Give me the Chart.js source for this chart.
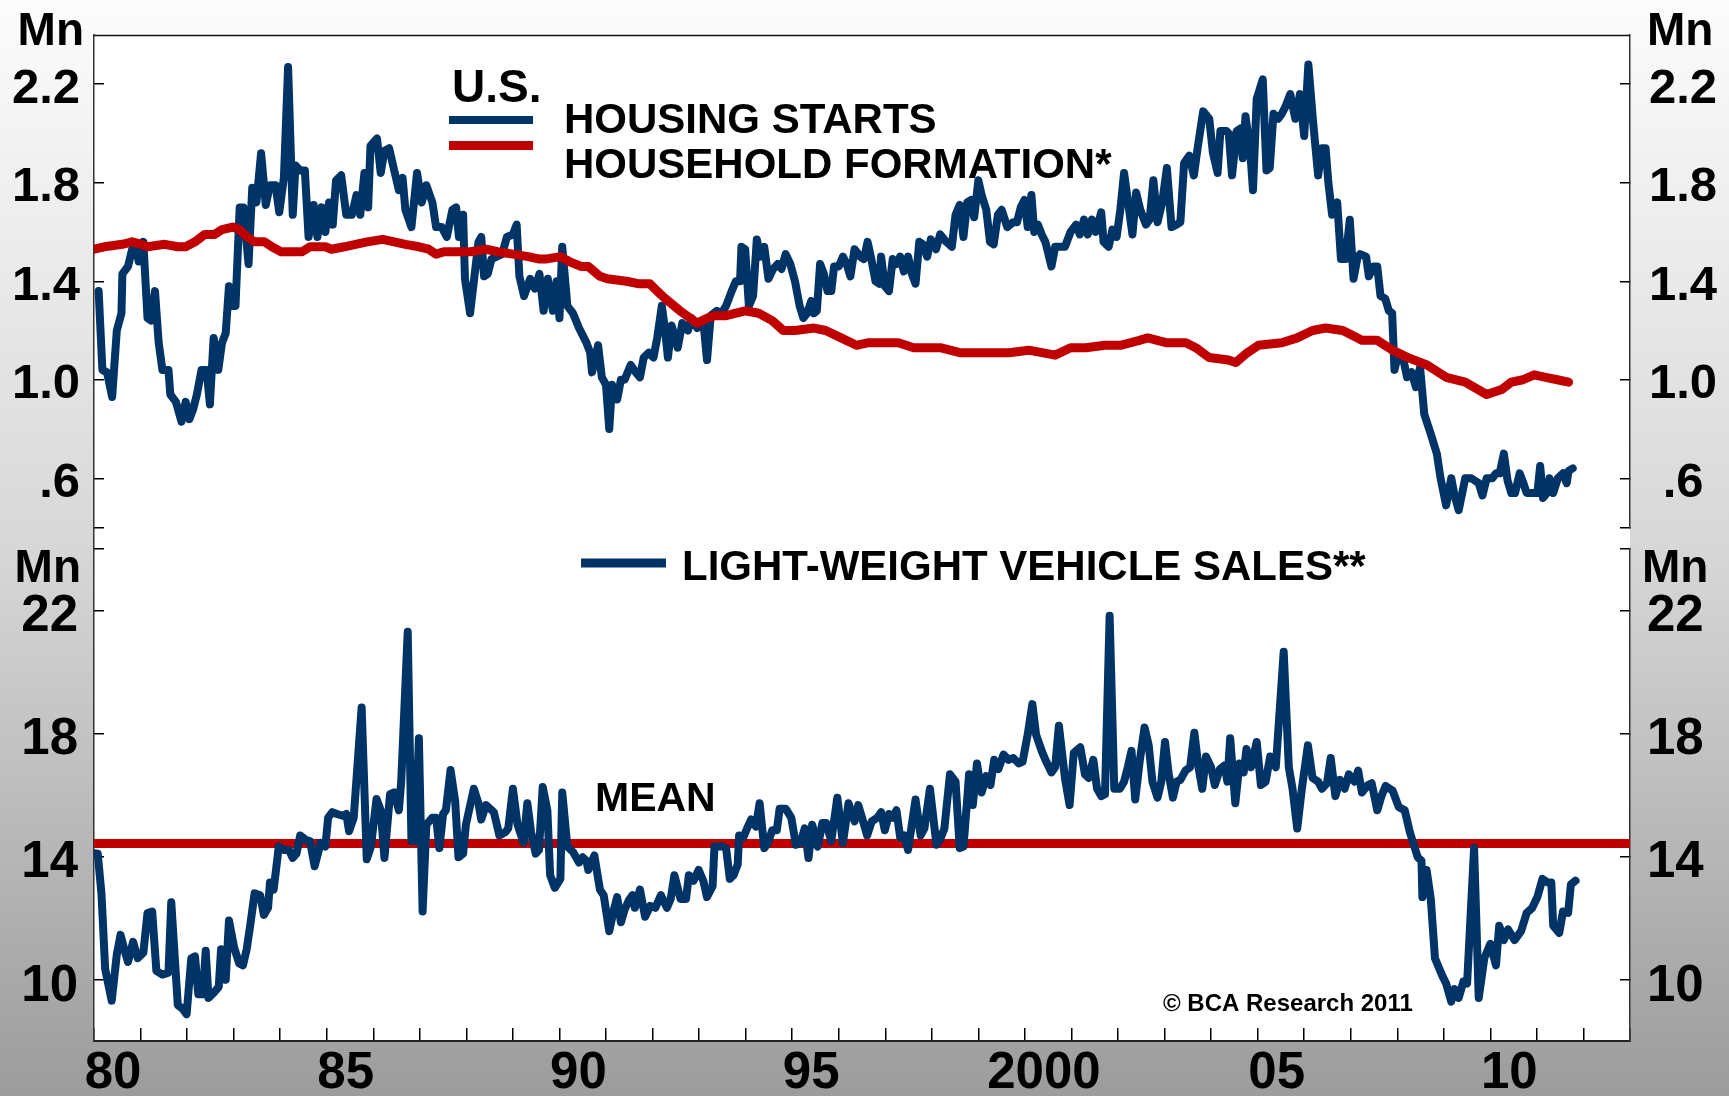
<!DOCTYPE html>
<html><head><meta charset="utf-8">
<script src="https://cdn.jsdelivr.net/npm/chart.js@4.4.1/dist/chart.umd.min.js"></script>
<style>
html,body{margin:0;padding:0;}
body{width:1729px;height:1096px;overflow:hidden;background:linear-gradient(to bottom,#fcfcfc 0px,#d7d7d7 550px,#9c9c9c 1096px);}
#c{position:absolute;left:0;top:0;}
</style></head><body>
<canvas id="c" width="1729" height="1096"></canvas>
<script>
// ---------- DATA ----------
const hsYears = [1980.10,1980.18,1980.28,1980.39,1980.49,1980.59,1980.61,1980.73,1980.82,1980.90,1980.96,1981.06,1981.15,1981.23,1981.31,1981.39,1981.47,1981.60,1981.64,1981.76,1981.88,1981.97,1982.05,1982.13,1982.21,1982.31,1982.42,1982.49,1982.57,1982.67,1982.75,1982.83,1982.90,1982.97,1983.04,1983.13,1983.21,1983.32,1983.40,1983.49,1983.59,1983.69,1983.78,1983.90,1983.98,1984.08,1984.17,1984.27,1984.33,1984.43,1984.53,1984.61,1984.72,1984.80,1984.89,1984.97,1985.05,1985.13,1985.20,1985.31,1985.42,1985.54,1985.64,1985.72,1985.81,1985.89,1985.94,1986.08,1986.16,1986.24,1986.34,1986.45,1986.55,1986.63,1986.69,1986.82,1986.94,1987.04,1987.14,1987.27,1987.35,1987.47,1987.58,1987.70,1987.78,1987.84,1987.93,1987.97,1988.08,1988.18,1988.26,1988.32,1988.38,1988.46,1988.54,1988.65,1988.77,1988.87,1989.00,1989.08,1989.14,1989.24,1989.37,1989.47,1989.57,1989.66,1989.75,1989.86,1989.94,1990.00,1990.06,1990.17,1990.29,1990.42,1990.50,1990.58,1990.66,1990.70,1990.83,1990.91,1991.00,1991.07,1991.13,1991.24,1991.32,1991.40,1991.53,1991.64,1991.73,1991.81,1991.92,1992.02,1992.10,1992.20,1992.27,1992.33,1992.41,1992.54,1992.64,1992.76,1992.84,1992.96,1993.09,1993.17,1993.25,1993.38,1993.48,1993.58,1993.70,1993.79,1993.88,1993.91,1993.99,1994.07,1994.16,1994.24,1994.32,1994.40,1994.49,1994.59,1994.69,1994.77,1994.86,1994.96,1995.06,1995.16,1995.24,1995.32,1995.41,1995.47,1995.53,1995.60,1995.68,1995.76,1995.84,1995.90,1996.00,1996.09,1996.17,1996.25,1996.34,1996.46,1996.54,1996.62,1996.70,1996.79,1996.87,1996.91,1996.99,1997.08,1997.16,1997.24,1997.32,1997.40,1997.49,1997.57,1997.65,1997.73,1997.81,1997.90,1997.98,1998.09,1998.18,1998.31,1998.43,1998.51,1998.60,1998.68,1998.76,1998.84,1998.91,1999.00,1999.07,1999.17,1999.25,1999.33,1999.42,1999.50,1999.62,1999.75,1999.83,1999.91,1999.99,2000.06,2000.14,2000.20,2000.28,2000.36,2000.44,2000.57,2000.65,2000.77,2000.86,2000.98,2001.10,2001.18,2001.27,2001.35,2001.44,2001.52,2001.64,2001.69,2001.80,2001.88,2001.97,2002.05,2002.13,2002.21,2002.31,2002.39,2002.48,2002.60,2002.68,2002.76,2002.85,2002.95,2003.05,2003.15,2003.26,2003.34,2003.42,2003.53,2003.63,2003.71,2003.83,2003.96,2004.04,2004.14,2004.20,2004.33,2004.38,2004.45,2004.55,2004.63,2004.68,2004.74,2004.84,2004.90,2004.98,2005.11,2005.19,2005.26,2005.34,2005.44,2005.52,2005.60,2005.70,2005.81,2005.91,2006.00,2006.09,2006.19,2006.30,2006.38,2006.46,2006.52,2006.60,2006.71,2006.79,2006.89,2006.98,2007.06,2007.15,2007.20,2007.33,2007.39,2007.49,2007.57,2007.64,2007.74,2007.82,2007.89,2007.94,2008.03,2008.11,2008.21,2008.31,2008.40,2008.49,2008.58,2008.72,2008.85,2008.93,2009.05,2009.16,2009.23,2009.32,2009.46,2009.59,2009.67,2009.75,2009.83,2009.92,2010.04,2010.12,2010.20,2010.29,2010.37,2010.45,2010.53,2010.63,2010.71,2010.78,2010.90,2011.01,2011.07,2011.13,2011.22,2011.27,2011.35,2011.45,2011.56,2011.64,2011.68,2011.77];
const hsValues = [1.36,1.04,1.03,0.93,1.20,1.27,1.43,1.46,1.53,1.54,1.48,1.56,1.25,1.24,1.36,1.15,1.04,1.04,0.94,0.91,0.83,0.91,0.84,0.88,0.94,1.04,1.04,0.90,1.17,1.04,1.15,1.19,1.38,1.30,1.30,1.70,1.70,1.47,1.78,1.72,1.92,1.71,1.79,1.79,1.68,1.82,2.27,1.67,1.87,1.85,1.85,1.58,1.71,1.58,1.70,1.60,1.72,1.63,1.81,1.83,1.67,1.67,1.75,1.67,1.84,1.70,1.95,1.98,1.84,1.93,1.94,1.85,1.77,1.82,1.69,1.62,1.84,1.72,1.79,1.72,1.62,1.62,1.58,1.69,1.70,1.58,1.67,1.41,1.27,1.43,1.56,1.58,1.42,1.43,1.49,1.50,1.51,1.58,1.59,1.63,1.42,1.34,1.41,1.37,1.43,1.28,1.41,1.28,1.40,1.25,1.54,1.30,1.27,1.21,1.18,1.15,1.11,1.03,1.14,1.01,0.98,0.80,0.98,0.92,1.00,1.00,1.06,1.03,1.01,1.09,1.11,1.09,1.17,1.30,1.20,1.09,1.22,1.13,1.23,1.20,1.25,1.21,1.24,1.08,1.26,1.28,1.27,1.30,1.36,1.40,1.40,1.54,1.53,1.30,1.34,1.57,1.50,1.54,1.41,1.45,1.47,1.45,1.51,1.47,1.40,1.30,1.25,1.27,1.32,1.27,1.28,1.47,1.43,1.36,1.36,1.46,1.46,1.50,1.47,1.42,1.53,1.50,1.49,1.56,1.49,1.40,1.39,1.50,1.38,1.36,1.49,1.47,1.50,1.44,1.50,1.43,1.39,1.56,1.55,1.50,1.57,1.53,1.59,1.56,1.54,1.67,1.71,1.58,1.72,1.73,1.66,1.81,1.75,1.69,1.56,1.55,1.67,1.69,1.62,1.64,1.64,1.70,1.73,1.62,1.75,1.60,1.63,1.59,1.56,1.46,1.54,1.54,1.54,1.60,1.63,1.59,1.65,1.59,1.65,1.60,1.68,1.56,1.54,1.61,1.58,1.69,1.84,1.73,1.59,1.76,1.69,1.63,1.65,1.81,1.64,1.72,1.86,1.62,1.63,1.64,1.88,1.91,1.83,1.94,2.09,2.06,1.92,1.84,2.01,2.01,2.00,1.83,2.01,2.02,1.90,2.07,1.93,1.77,2.14,2.22,1.85,1.86,2.08,2.06,2.08,2.11,2.16,2.06,2.16,1.99,2.28,2.05,1.83,1.94,1.94,1.80,1.67,1.72,1.49,1.49,1.65,1.41,1.50,1.51,1.50,1.42,1.46,1.46,1.34,1.33,1.28,1.27,1.04,1.11,1.10,1.01,1.03,0.97,1.05,0.86,0.78,0.70,0.60,0.49,0.60,0.53,0.47,0.60,0.60,0.59,0.58,0.53,0.60,0.60,0.62,0.62,0.70,0.59,0.54,0.54,0.62,0.58,0.54,0.54,0.54,0.65,0.52,0.54,0.60,0.54,0.60,0.62,0.58,0.63,0.64];

const hfYears = [1980.00,1980.22,1980.61,1980.82,1981.02,1981.15,1981.52,1981.80,1981.97,1982.17,1982.38,1982.59,1982.75,1982.98,1983.12,1983.29,1983.45,1983.66,1983.82,1984.02,1984.47,1984.64,1984.97,1985.10,1985.38,1985.62,1985.87,1986.20,1986.45,1986.69,1986.98,1987.19,1987.35,1987.52,1988.09,1988.42,1988.67,1989.00,1989.33,1989.57,1989.70,1990.02,1990.21,1990.46,1990.62,1990.87,1991.03,1991.44,1991.69,1991.94,1992.10,1992.27,1992.59,1992.96,1993.17,1993.33,1993.58,1993.99,1994.28,1994.57,1994.81,1995.06,1995.47,1995.72,1996.05,1996.38,1996.62,1997.28,1997.61,1998.18,1998.60,1999.01,1999.66,2000.08,2000.65,2000.98,2001.31,2001.72,2002.05,2002.46,2002.64,2003.05,2003.46,2003.67,2003.96,2004.37,2004.53,2004.78,2005.02,2005.52,2005.85,2006.18,2006.46,2006.83,2007.24,2007.57,2007.90,2008.23,2008.64,2009.05,2009.46,2009.92,2010.24,2010.45,2010.70,2010.94,2011.19,2011.44,2011.68];
const hfValues = [1.53,1.54,1.55,1.56,1.55,1.54,1.55,1.54,1.54,1.56,1.59,1.59,1.61,1.62,1.61,1.58,1.56,1.56,1.54,1.52,1.52,1.54,1.54,1.53,1.54,1.55,1.56,1.57,1.56,1.55,1.54,1.53,1.51,1.52,1.52,1.53,1.52,1.51,1.50,1.49,1.49,1.50,1.48,1.46,1.46,1.42,1.41,1.40,1.39,1.39,1.36,1.33,1.28,1.23,1.25,1.26,1.26,1.28,1.27,1.24,1.20,1.20,1.21,1.20,1.17,1.14,1.15,1.15,1.13,1.13,1.11,1.11,1.11,1.12,1.10,1.13,1.13,1.14,1.14,1.16,1.17,1.15,1.15,1.13,1.09,1.08,1.07,1.11,1.14,1.15,1.17,1.20,1.21,1.20,1.16,1.16,1.12,1.09,1.06,1.01,0.99,0.94,0.96,0.99,1.00,1.02,1.01,1.00,0.99];

const lvYears = [1980.00,1980.08,1980.16,1980.24,1980.38,1980.49,1980.57,1980.65,1980.73,1980.84,1980.94,1981.06,1981.15,1981.25,1981.34,1981.47,1981.60,1981.66,1981.80,1981.90,1981.99,1982.09,1982.17,1982.24,1982.34,1982.40,1982.46,1982.58,1982.68,1982.73,1982.83,1982.90,1983.01,1983.12,1983.20,1983.28,1983.36,1983.45,1983.57,1983.65,1983.74,1983.78,1983.86,1983.97,1984.08,1984.19,1984.27,1984.35,1984.43,1984.56,1984.64,1984.74,1984.80,1984.87,1984.97,1985.03,1985.12,1985.22,1985.34,1985.42,1985.48,1985.58,1985.75,1985.86,1985.95,1986.07,1986.16,1986.24,1986.36,1986.45,1986.55,1986.60,1986.74,1986.82,1986.90,1986.98,1987.06,1987.14,1987.27,1987.35,1987.42,1987.50,1987.56,1987.66,1987.76,1987.83,1987.93,1987.99,1988.16,1988.26,1988.32,1988.42,1988.59,1988.71,1988.84,1988.90,1989.00,1989.10,1989.23,1989.31,1989.39,1989.49,1989.56,1989.64,1989.74,1989.80,1989.90,1990.02,1990.06,1990.17,1990.29,1990.42,1990.50,1990.58,1990.62,1990.75,1990.87,1990.95,1991.07,1991.16,1991.24,1991.32,1991.40,1991.49,1991.57,1991.62,1991.73,1991.84,1991.95,1992.06,1992.18,1992.31,1992.39,1992.47,1992.60,1992.72,1992.78,1992.88,1992.99,1993.09,1993.17,1993.29,1993.33,1993.50,1993.58,1993.66,1993.74,1993.83,1993.86,1993.95,1994.03,1994.12,1994.22,1994.30,1994.40,1994.48,1994.57,1994.67,1994.73,1994.86,1994.98,1995.08,1995.18,1995.27,1995.35,1995.43,1995.55,1995.65,1995.73,1995.84,1995.97,1996.09,1996.21,1996.34,1996.42,1996.50,1996.61,1996.71,1996.83,1996.91,1996.99,1997.08,1997.16,1997.24,1997.32,1997.40,1997.49,1997.57,1997.65,1997.76,1997.84,1997.96,1998.10,1998.18,1998.27,1998.39,1998.51,1998.60,1998.68,1998.76,1998.80,1998.88,1998.97,1999.07,1999.17,1999.26,1999.34,1999.43,1999.54,1999.65,1999.75,1999.87,1999.95,2000.06,2000.16,2000.24,2000.36,2000.44,2000.57,2000.65,2000.73,2000.86,2000.96,2001.05,2001.19,2001.29,2001.37,2001.47,2001.55,2001.64,2001.72,2001.82,2001.92,2002.04,2002.13,2002.21,2002.29,2002.37,2002.47,2002.57,2002.66,2002.74,2002.85,2002.93,2003.01,2003.09,2003.18,2003.26,2003.34,2003.45,2003.55,2003.64,2003.73,2003.81,2003.89,2004.00,2004.08,2004.19,2004.29,2004.35,2004.41,2004.52,2004.61,2004.70,2004.76,2004.86,2004.98,2005.07,2005.17,2005.27,2005.39,2005.56,2005.67,2005.75,2005.85,2005.95,2006.08,2006.18,2006.30,2006.38,2006.49,2006.57,2006.67,2006.77,2006.87,2006.96,2007.08,2007.16,2007.24,2007.37,2007.45,2007.57,2007.66,2007.75,2007.90,2008.03,2008.16,2008.27,2008.44,2008.52,2008.54,2008.63,2008.72,2008.81,2008.97,2009.05,2009.16,2009.23,2009.32,2009.42,2009.50,2009.65,2009.75,2009.87,2010.00,2010.12,2010.19,2010.29,2010.38,2010.52,2010.66,2010.78,2010.90,2011.01,2011.12,2011.23,2011.31,2011.35,2011.48,2011.56,2011.67,2011.73,2011.83];
const lvValues = [14.10,14.09,12.80,10.34,9.31,10.81,11.45,10.98,10.57,11.22,10.69,10.87,12.16,12.21,10.28,10.16,10.22,12.51,9.17,9.05,8.87,10.69,10.75,9.52,9.52,10.93,9.40,9.58,9.76,10.98,9.99,11.92,11.04,10.52,10.46,10.98,11.80,12.80,12.74,12.10,12.33,13.15,12.92,14.32,14.21,14.21,13.95,14.09,14.68,14.53,14.50,13.68,14.03,14.44,14.32,15.26,15.44,15.38,15.32,15.38,14.82,15.26,18.84,13.91,14.32,15.87,15.50,13.95,16.02,16.08,15.50,16.43,21.30,14.50,14.50,17.84,12.21,15.03,15.26,15.26,14.27,15.38,15.50,16.81,15.79,13.97,14.09,15.03,16.20,15.73,15.20,15.67,15.44,14.68,14.79,14.91,16.20,15.03,14.44,15.73,14.79,14.09,14.21,16.26,15.50,13.39,12.98,13.27,16.08,14.32,14.15,13.80,13.97,13.86,13.56,14.03,12.92,12.74,11.57,12.21,12.68,11.86,12.27,12.57,12.74,12.33,12.92,12.04,12.39,12.33,12.74,12.33,12.62,13.39,12.62,12.62,13.39,13.21,13.56,13.21,12.68,13.03,14.32,14.32,14.27,13.27,13.39,13.74,14.68,14.62,14.91,15.20,14.97,15.73,14.27,14.44,14.85,14.85,15.55,15.55,15.26,14.38,14.44,14.91,13.95,15.03,14.32,15.09,15.09,14.50,15.91,14.44,15.73,15.14,15.67,15.26,14.68,15.14,15.26,15.44,14.85,15.38,15.26,15.50,14.62,14.68,14.21,15.03,15.85,14.68,14.91,16.20,14.38,14.56,14.91,16.67,16.43,14.27,14.32,15.85,16.67,15.67,17.02,16.08,16.61,16.32,17.14,16.84,17.31,17.14,17.20,17.02,17.08,17.96,18.95,17.96,17.43,17.14,16.73,16.90,18.25,16.55,15.67,17.37,17.55,16.67,16.55,17.14,16.20,15.96,16.02,21.82,16.20,16.20,16.43,16.90,17.43,15.85,17.14,18.19,17.61,16.43,15.91,16.43,17.72,16.67,15.91,16.43,16.49,16.79,16.90,18.02,16.90,16.20,17.25,16.90,16.32,16.84,16.96,16.43,17.84,15.73,17.02,16.73,17.49,16.90,17.72,16.32,16.43,17.25,16.90,20.65,16.90,16.20,14.91,16.20,17.61,16.55,16.43,16.20,16.38,17.20,15.96,16.49,16.20,16.67,16.43,16.79,16.08,16.32,16.38,15.50,15.96,16.29,16.14,15.61,15.50,14.79,13.97,13.86,12.68,13.56,12.62,10.69,10.11,9.87,9.28,9.69,9.40,9.93,9.87,14.27,9.40,10.69,11.16,10.46,11.75,11.28,11.63,11.28,11.57,12.16,12.33,12.68,13.27,13.15,13.15,11.75,11.51,12.21,12.16,13.09,13.21];

const meanValue = 14.42;
const meanYears = [1980, 2013];

// tick labels
const topTicks = [0.6, 1.0, 1.4, 1.8, 2.2];
const topTickLabels = ['.6', '1.0', '1.4', '1.8', '2.2'];
const topTickMarks = [0.4, 0.6, 1.0, 1.4, 1.8, 2.2];
const botTicks = [10, 14, 18, 22];
const botTickLabels = ['10', '14', '18', '22'];
const botTickMarks = [10, 14, 18, 22, 24];
const xLabelYears = [1980, 1985, 1990, 1995, 2000, 2005, 2010];
const xLabels = ['80', '85', '90', '95', '2000', '05', '10'];
const xTickYears = [];
for (let y = 1980; y <= 2013; y++) xTickYears.push(y);

// ---------- CHART ----------
const FONT = "'Liberation Sans', Arial, Helvetica, sans-serif";
const BLUE = '#003366';
const RED = '#c00000';

function pts(xs, ys) { return xs.map((x, i) => ({x: x, y: ys[i]})); }
function fitV(w) { return function (s) { s.width = w; s.paddingTop = 0; s.paddingBottom = 0; }; }
function lblFn(vals, labels) { return function (v) { const i = vals.indexOf(v); return i >= 0 ? labels[i] : ''; }; }

function yScale(pos, stackW, weight, min, max, marks, vals, labels, pad, offs, fontSize, border) {
  return {
    type: 'linear', position: pos, stack: pos === 'left' ? 'L' : 'R', stackWeight: stackW, weight: weight,
    min: min, max: max,
    afterBuildTicks: s => { s.ticks = marks.map(v => ({value: v})); },
    ticks: {
      autoSkip: false, padding: pad, labelOffset: offs, color: '#000',
      crossAlign: pos === 'left' ? 'near' : 'center',
      font: {family: FONT, size: fontSize, weight: 'bold', lineHeight: 0.8},
      callback: lblFn(vals, labels)
    },
    grid: {drawOnChartArea: false, drawTicks: true, tickLength: -10, color: '#000', lineWidth: 1.5},
    border: {display: border, color: '#333', width: 1.5},
    afterFit: fitV(pos === 'left' ? 94 : 99)
  };
}
function gapScale(pos, weight, border) {
  return {
    type: 'linear', position: pos, stack: pos === 'left' ? 'L' : 'R', stackWeight: 21.3, weight: weight,
    min: 0, max: 1,
    ticks: {display: false}, grid: {display: false},
    border: {display: border, color: '#333', width: 1.5},
    afterFit: fitV(pos === 'left' ? 94 : 99)
  };
}

const bgPlugin = {
  id: 'bg',
  beforeDraw(chart) {
    const {ctx, chartArea: a} = chart;
    ctx.save();
    ctx.fillStyle = '#ffffff';
    ctx.fillRect(a.left, a.top, a.right - a.left, a.bottom - a.top);
    ctx.restore();
  },
  beforeDatasetsDraw(chart) {
    const {ctx, chartArea: a} = chart;
    ctx.save();
    ctx.strokeStyle = '#111';
    ctx.lineWidth = 1.5;
    ctx.beginPath();
    ctx.moveTo(a.left, a.top + 0.5);
    ctx.lineTo(a.right, a.top + 0.5);
    ctx.stroke();
    ctx.restore();
  }
};

const textPlugin = {
  id: 'texts',
  afterDraw(chart) {
    const ctx = chart.ctx;
    ctx.save();
    ctx.fillStyle = '#000';
    ctx.textBaseline = 'alphabetic';
    const bold = s => 'bold ' + s + 'px ' + FONT;
    // Mn units
    ctx.font = bold(46);
    ctx.textAlign = 'right';
    ctx.fillText('Mn', 84, 45);
    ctx.fillText('Mn', 81, 582);
    ctx.textAlign = 'left';
    ctx.fillText('Mn', 1647, 45);
    ctx.fillText('Mn', 1642, 582);
    // top legend
    ctx.fillText('U.S.', 452, 102);
    ctx.font = bold(42);
    ctx.fillText('HOUSING STARTS', 564, 133);
    ctx.fillText('HOUSEHOLD FORMATION*', 564, 178);
    ctx.fillText('LIGHT-WEIGHT VEHICLE SALES**', 682, 580);
    ctx.font = bold(41);
    ctx.fillText('MEAN', 595, 811);
    ctx.font = bold(24);
    ctx.fillText('\u00A9 BCA Research 2011', 1163, 1011);
    // legend swatches
    ctx.lineCap = 'butt';
    ctx.strokeStyle = BLUE; ctx.lineWidth = 8;
    ctx.beginPath(); ctx.moveTo(449, 120); ctx.lineTo(533, 120); ctx.stroke();
    ctx.strokeStyle = RED; ctx.lineWidth = 9;
    ctx.beginPath(); ctx.moveTo(449, 145.5); ctx.lineTo(533, 145.5); ctx.stroke();
    ctx.strokeStyle = BLUE; ctx.lineWidth = 9;
    ctx.beginPath(); ctx.moveTo(581, 563); ctx.lineTo(666, 563); ctx.stroke();
    ctx.restore();
  }
};

const lineStyle = {pointRadius: 0, tension: 0, borderJoinStyle: 'round', borderCapStyle: 'round', fill: false};

new Chart(document.getElementById('c'), {
  type: 'line',
  data: {
    datasets: [
      Object.assign({label: 'HOUSEHOLD FORMATION*', data: pts(hfYears, hfValues), yAxisID: 'yTop', borderColor: RED, borderWidth: 9, order: 0}, lineStyle),
      Object.assign({label: 'HOUSING STARTS', data: pts(hsYears, hsValues), yAxisID: 'yTop', borderColor: BLUE, borderWidth: 8, order: 1}, lineStyle),
      Object.assign({label: 'LIGHT-WEIGHT VEHICLE SALES**', data: pts(lvYears, lvValues), yAxisID: 'yBot', borderColor: BLUE, borderWidth: 8, order: 2}, lineStyle),
      Object.assign({label: 'MEAN', data: meanYears.map(x => ({x: x, y: meanValue})), yAxisID: 'yBot', borderColor: RED, borderWidth: 9, order: 3, borderCapStyle: 'butt'}, {pointRadius: 0, tension: 0, fill: false})
    ]
  },
  options: {
    responsive: false, animation: false, devicePixelRatio: 1, events: [],
    layout: {padding: {top: 35, left: 0, right: 0, bottom: 0}},
    plugins: {legend: {display: false}, tooltip: {enabled: false}},
    scales: {
      x: {
        type: 'linear', position: 'bottom', min: 1980, max: 2013,
        afterBuildTicks: s => { s.ticks = xTickYears.map(v => ({value: v})); },
        ticks: {
          autoSkip: false, maxRotation: 0, minRotation: 0, labelOffset: 19, padding: 20, color: '#000',
          font: {family: FONT, size: 51, weight: 'bold', lineHeight: 1},
          callback: lblFn(xLabelYears, xLabels)
        },
        grid: {drawOnChartArea: false, drawTicks: true, tickLength: -13, color: '#000', lineWidth: 1.5},
        border: {display: true, color: '#222', width: 2},
        afterFit: s => { s.height = 55; s.paddingLeft = 0; s.paddingRight = 0; }
      },
      yTop: yScale('left', 492.5, 3, 0.4, 2.4, topTickMarks, topTicks, topTickLabels, 24, 5, 49, true),
      yGapL: gapScale('left', 2, true),
      yBot: yScale('left', 492.2, 1, 8, 24, botTickMarks, botTicks, botTickLabels, 26, 7, 51, true),
      yTopR: yScale('right', 492.5, 1, 0.4, 2.4, topTickMarks, topTicks, topTickLabels, 29, 5, 49, true),
      yGapR: gapScale('right', 2, false),
      yBotR: yScale('right', 492.2, 3, 8, 24, botTickMarks, botTicks, botTickLabels, 27, 7, 51, true)
    }
  },
  plugins: [bgPlugin, textPlugin]
});
</script>
</body></html>
